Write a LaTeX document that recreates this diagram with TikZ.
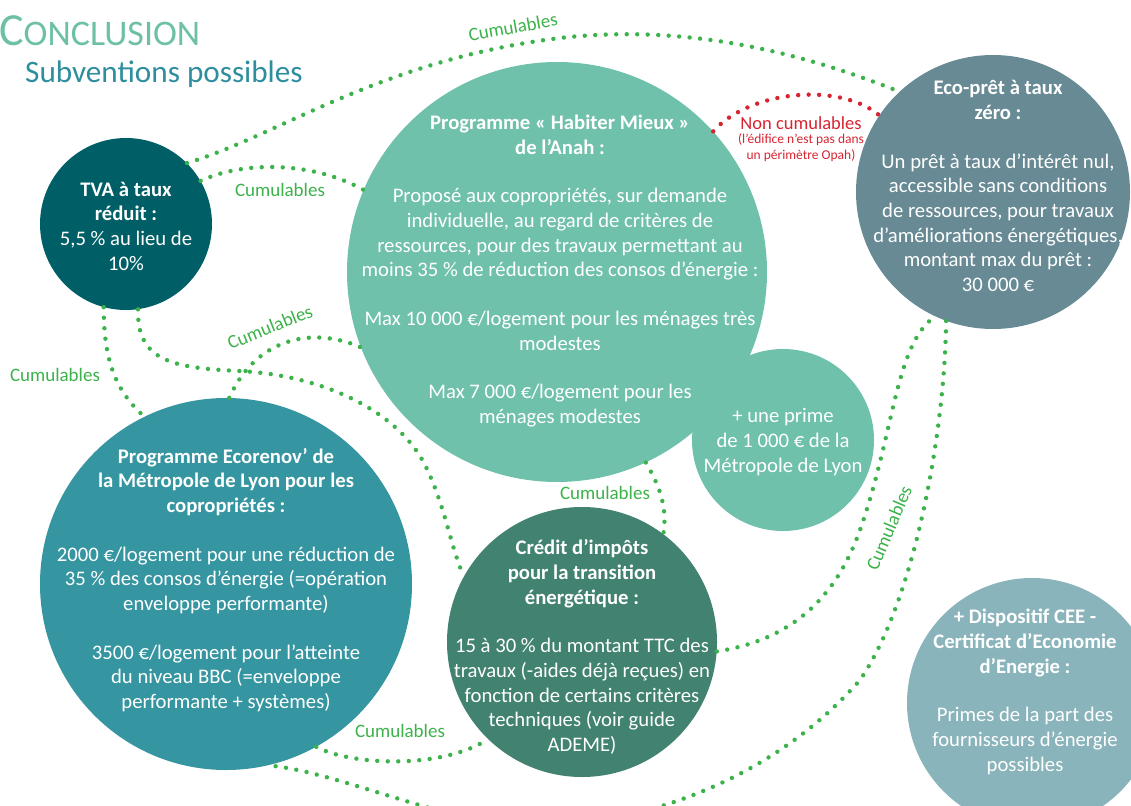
\documentclass[tikz,border=0pt]{standalone}
\usepackage{fontspec}
\setmainfont{Carlito}
\definecolor{tvateal}{RGB}{0,95,102}
\definecolor{anahgreen}{RGB}{112,193,171}
\definecolor{ecogrey}{RGB}{103,138,148}
\definecolor{ecorteal}{RGB}{53,149,160}
\definecolor{credgreen}{RGB}{66,130,112}
\definecolor{ceegrey}{RGB}{138,180,187}
\definecolor{dotgreen}{RGB}{60,178,74}
\definecolor{dotred}{RGB}{214,36,48}
\definecolor{titlegreen}{RGB}{109,192,165}
\definecolor{subteal}{RGB}{46,142,158}
\usetikzlibrary{positioning}

\begin{document}
\begin{tikzpicture}[x=1pt, y=-1pt,
  bubble/.style={circle, inner sep=0pt},
  bubbletxt/.style={inner sep=0pt, align=center, text=white, font=\fontsize{20.7}{24.7}\selectfont},
  cumul/.style={draw=dotgreen, line width=4.4pt, line cap=round, dash pattern=on 0pt off 10.5pt},
  noncumul/.style={cumul, draw=dotred},
  cumlbl/.style={text=dotgreen, font=\fontsize{19}{20}\selectfont, inner sep=0pt}]
  \useasboundingbox (0,0) rectangle (1131,805);
  \clip (0,0) rectangle (1131,805);

  % Title
  \node[anchor=base west, inner sep=0pt, text=titlegreen] (title) at (-1,46) {\fontsize{46}{46}\selectfont C\fontsize{36}{36}\selectfont ONCLUSION};
  \node[anchor=base west, inner sep=0pt, text=subteal, font=\fontsize{31.2}{32}\selectfont] (subtitle) at (25,83) {Subventions possibles};

  % Aids (discs)
  \node[bubble, fill=tvateal, minimum size=172] (tva) at (126,224) {};
  \node[bubble, fill=anahgreen, minimum size=182] (prime) at (783,440) {};
  \node[bubble, fill=anahgreen, minimum size=420] (anah) at (557,272) {};
  \node[bubble, fill=ecogrey, minimum size=274] (eco) at (993,192) {};
  \node[bubble, fill=ecorteal, minimum size=372] (ecor) at (226,584) {};
  \node[bubble, fill=credgreen, minimum size=270] (cred) at (582,642) {};
  \node[bubble, fill=ceegrey, minimum size=250] (cee) at (1032,703) {};

  % Aids (texts)
  \node[bubbletxt] (tvatxt) at (126,226) {\textbf{TVA à taux}\\\textbf{réduit :}\\5,5 \% au lieu de\\10\%};
  \node[bubbletxt] (primetxt) at (783,442) {+ une prime\\de 1 000 € de la\\Métropole de Lyon};
  \node[bubbletxt] (anahtxt) at (560,271) {\textbf{Programme « Habiter Mieux »}\\\textbf{de l’Anah :}\\[24pt]Proposé aux copropriétés, sur demande\\individuelle, au regard de critères de\\ressources, pour des travaux permettant au\\moins 35 \% de réduction des consos d’énergie :\\[24pt]Max 10 000 €/logement pour les ménages très\\modestes\\[24pt]Max 7 000 €/logement pour les\\ménages modestes};
  \node[bubbletxt] (ecotxt) at (998,186) {\textbf{Eco-prêt à taux}\\\textbf{zéro :}\\[24pt]Un prêt à taux d’intérêt nul,\\accessible sans conditions\\de ressources, pour travaux\\d’améliorations énergétiques,\\montant max du prêt :\\30 000 €};
  \node[bubbletxt] (ecortxt) at (226,580) {\textbf{Programme Ecorenov’ de}\\\textbf{la Métropole de Lyon pour les}\\\textbf{copropriétés :}\\[24pt]2000 €/logement pour une réduction de\\35 \% des consos d’énergie (=opération\\enveloppe performante)\\[24pt]3500 €/logement pour l’atteinte\\du niveau BBC (=enveloppe\\performante + systèmes)};
  \node[bubbletxt] (credtxt) at (582,647) {\textbf{Crédit d’impôts}\\\textbf{pour la transition}\\\textbf{énergétique :}\\[24pt]15 à 30 \% du montant TTC des\\travaux (-aides déjà reçues) en\\fonction de certains critères\\techniques (voir guide\\ADEME)};
  \node[bubbletxt] (ceetxt) at (1025,692) {\textbf{+ Dispositif CEE -}\\\textbf{Certificat d’Economie}\\\textbf{d’Energie :}\\[24pt]Primes de la part des\\fournisseurs d’énergie\\possibles};

  % Cumulables links
  \draw[cumul] (tva.45) .. controls (280,135) and (380,60) .. (560,38) .. controls (700,22) and (820,60) .. (eco.133);
  \draw[cumul] (tva.30) .. controls (240,162) and (310,160) .. (anah.157);
  \draw[cumul] (tva.255) .. controls (104,345) and (108,385) .. (ecor.116);
  \draw[cumul] (tva.278) .. controls (137,360) and (170,368) .. (240,371) .. controls (330,376) and (400,415) .. (425,465) .. controls (445,505) and (450,545) .. (cred.151);
  \draw[cumul] (ecor.89) .. controls (255,340) and (310,325) .. (anah.201);
  \draw[cumul] (anah.295) .. controls (662,490) and (667,510) .. (cred.53);
  \draw[cumul] (cred.-4) .. controls (790,640) and (835,600) .. (860,530) .. controls (895,430) and (895,345) .. (eco.245);
  \draw[cumul] (eco.250) .. controls (945,430) and (915,600) .. (860,680) .. controls (790,760) and (680,820) .. (530,830) .. controls (440,820) and (330,770) .. (ecor.283);
  \draw[cumul] (ecor.299) .. controls (350,765) and (440,770) .. (cred.226);

  % Non cumulables link
  \draw[noncumul] (anah.42) .. controls (750,90) and (840,82) .. (eco.146);

  % Labels
  \node[cumlbl, rotate=10] (lbltop) at (513,27) {Cumulables};
  \node[cumlbl] (lbltva) at (280,190) {Cumulables};
  \node[cumlbl] (lblleft) at (55,375) {Cumulables};
  \node[cumlbl, rotate=22] (lblecor) at (270,327) {Cumulables};
  \node[cumlbl] (lblanah) at (605,493) {Cumulables};
  \node[cumlbl, rotate=67] (lbleco) at (889,528) {Cumulables};
  \node[cumlbl] (lblcred) at (400,731) {Cumulables};
  \node[text=dotred, font=\fontsize{18.5}{20}\selectfont, inner sep=0pt] (nclbl) at (801,123) {Non cumulables};
  \node[text=dotred, font=\fontsize{13.5}{15.5}\selectfont, inner sep=0pt, align=center, below=4pt of nclbl] (ncsub) {(l’édifice n’est pas dans\\un périmètre Opah)};
\end{tikzpicture}
\end{document}
